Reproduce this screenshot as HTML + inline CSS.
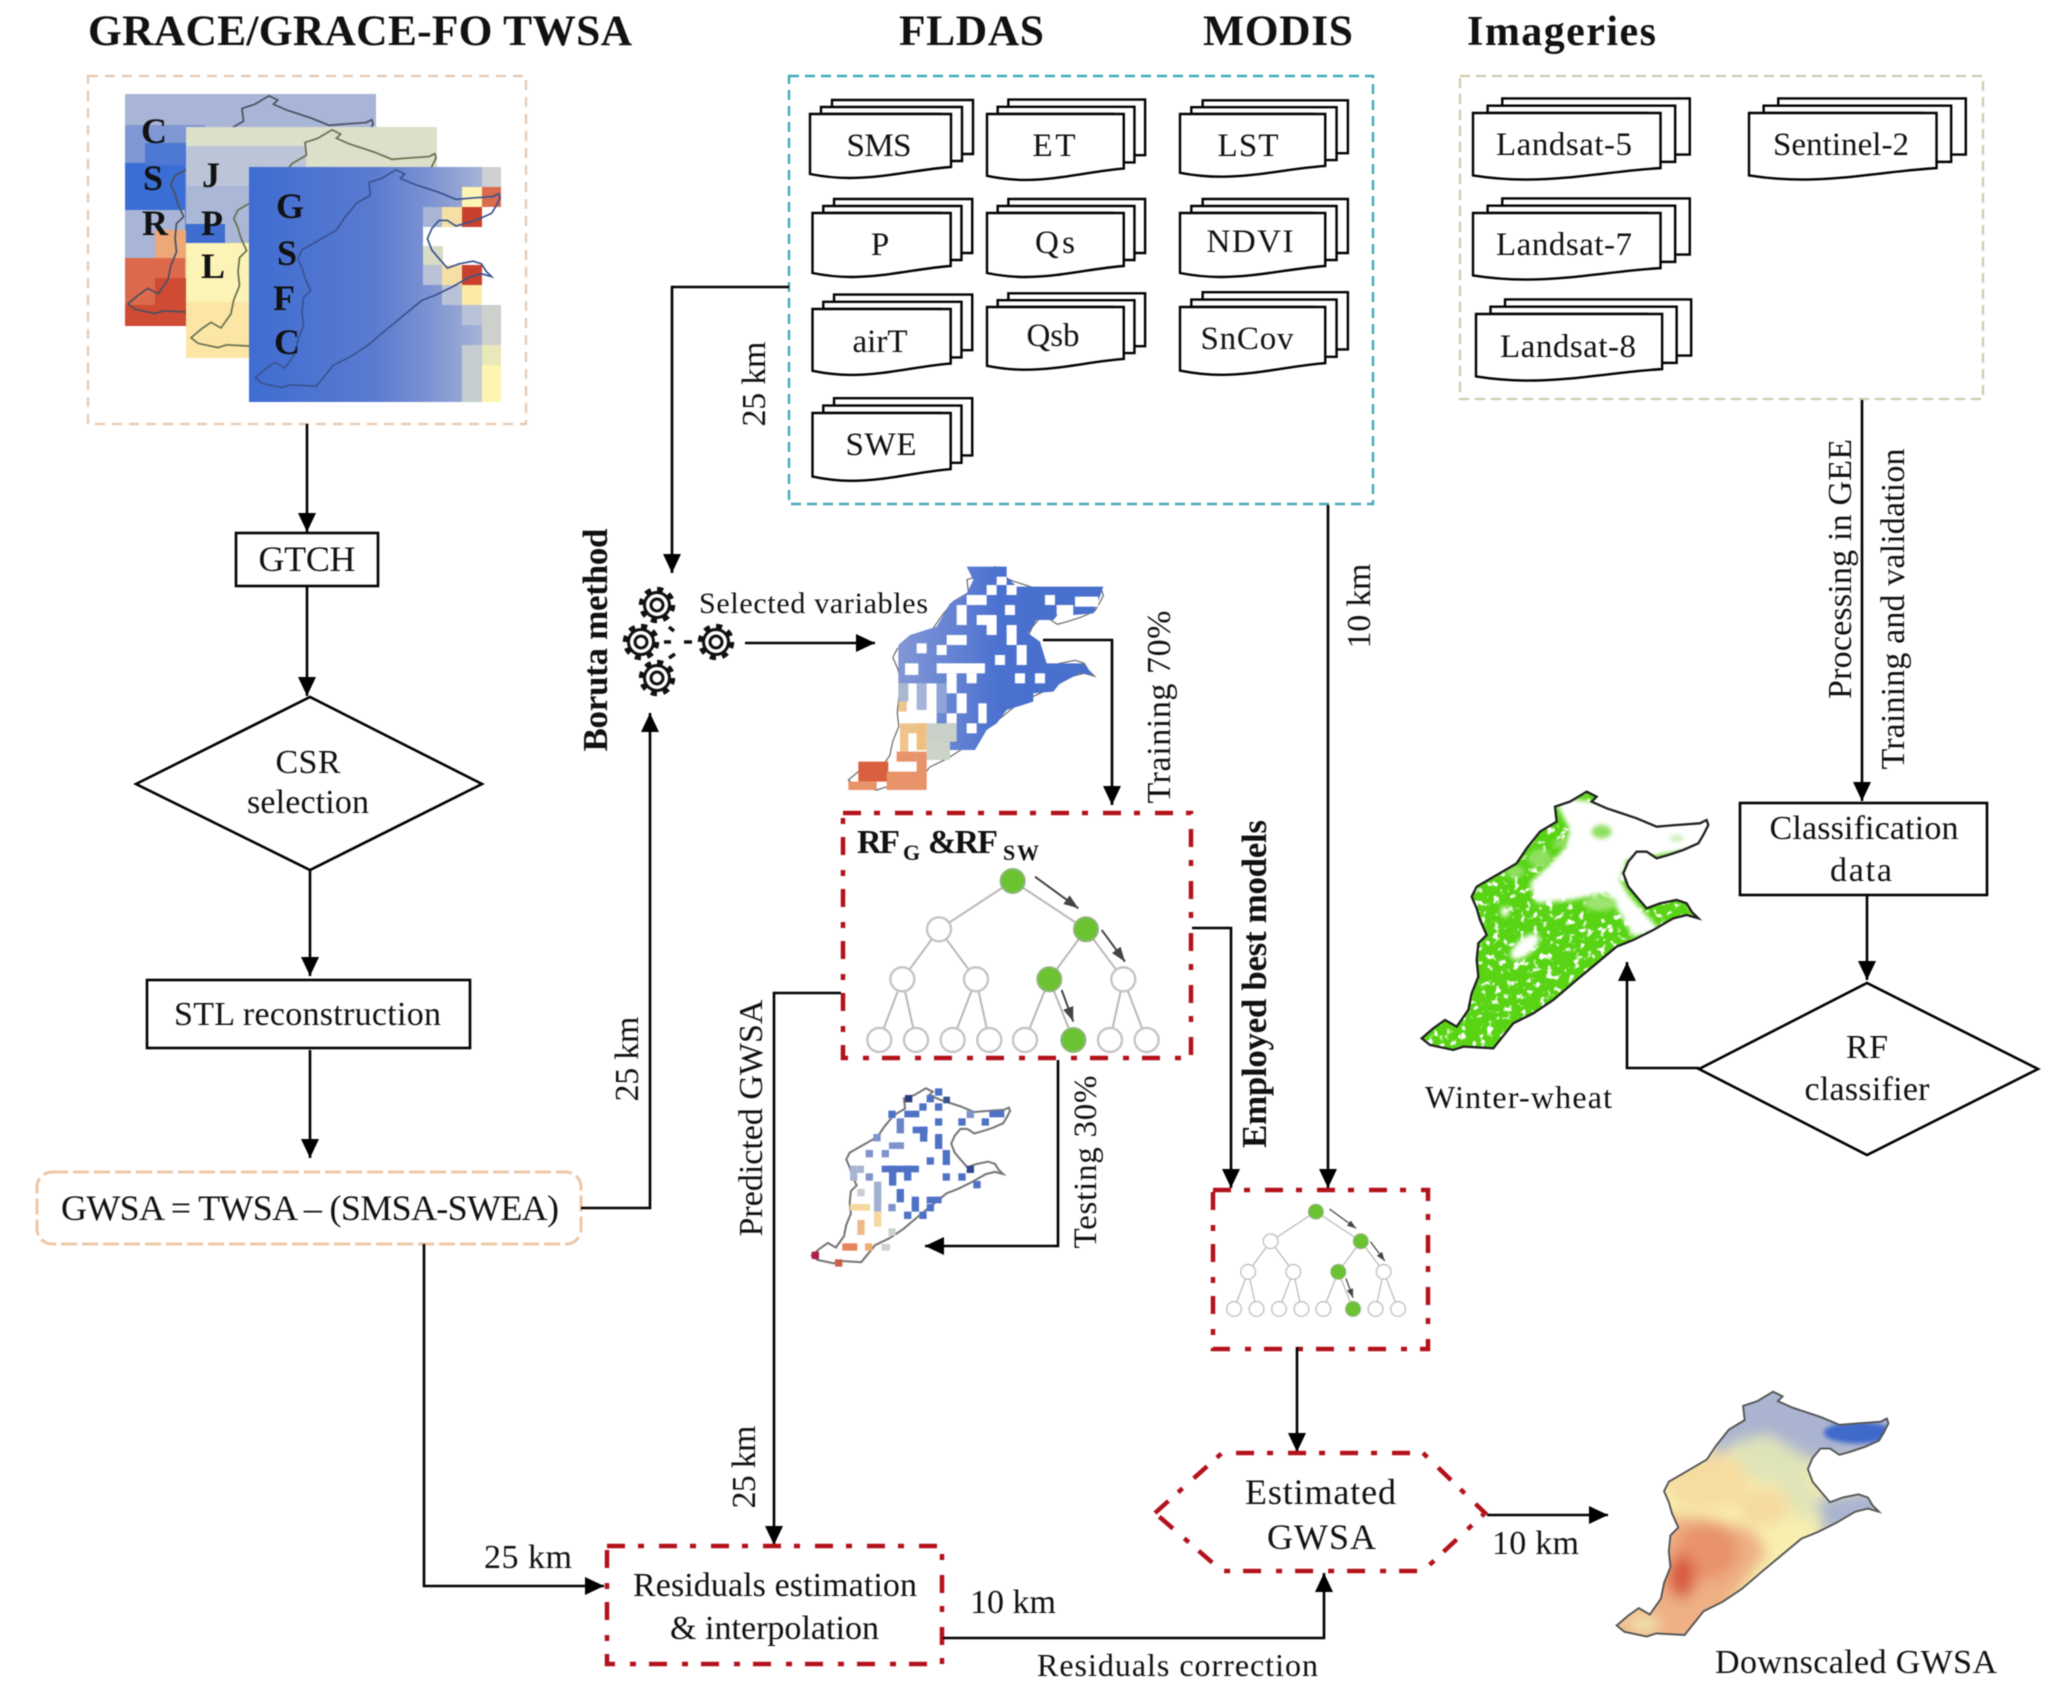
<!DOCTYPE html>
<html><head><meta charset="utf-8"><title>Workflow</title>
<style>
html,body{margin:0;padding:0;background:#fff}
svg{display:block;filter:blur(.5px)}
text{font-family:"Liberation Serif",serif;fill:#111}
.b{font-weight:bold}
.ln{fill:none;stroke:#000;stroke-width:2.6}
.bx{fill:#fff;stroke:#000;stroke-width:2.6}
.rd{fill:none;stroke:#b4121b;stroke-width:4.5;stroke-dasharray:18 13 6 15}
</style></head><body>
<svg width="2056" height="1705" viewBox="0 0 2056 1705" xmlns="http://www.w3.org/2000/svg">
<defs>
<marker id="a" markerUnits="userSpaceOnUse" markerWidth="20" markerHeight="20" refX="19" refY="9" orient="auto"><path d="M0 0L19 9L0 18Z" fill="#000"/></marker>
<marker id="g" markerUnits="userSpaceOnUse" markerWidth="60" markerHeight="50" refX="44" refY="22" orient="auto"><path d="M0 6L44 22L0 38Z" fill="#444"/></marker>
<path id="o" d="M500 35L530 50L515 65L560 85L590 95L650 115L710 140L770 135L840 130L860 120L865 135L850 165L835 190L790 210L745 225L710 235L680 215L650 215L625 245L610 280L625 320L650 350L680 385L720 370L770 360L800 370L815 395L835 415L800 405L760 415L700 450L640 480L590 500L530 550L470 600L400 660L340 700L280 730L220 805L130 800L100 810L30 795L5 775L40 745L75 720L110 740L145 690L155 640L175 590L170 540L175 490L200 465L180 420L170 385L155 350L170 320L230 285L290 250L320 205L360 155L410 125L405 80L450 65Z"/>
<clipPath id="oc"><use href="#o"/></clipPath>
<clipPath id="c1"><rect x="125" y="94" width="251" height="232"/></clipPath>
<filter id="bl" x="-20%" y="-20%" width="140%" height="140%"><feGaussianBlur stdDeviation="22"/></filter>
<filter id="bs" x="-20%" y="-20%" width="140%" height="140%"><feGaussianBlur stdDeviation="7"/></filter>
<filter id="nz" x="0" y="0" width="100%" height="100%"><feTurbulence type="fractalNoise" baseFrequency=".05" numOctaves="2" seed="4"/><feColorMatrix values="0 0 0 0 1 0 0 0 0 1 0 0 0 0 1 7 0 0 0 -4"/></filter>
<linearGradient id="gs" x1="0" x2="1" y1="0" y2="0"><stop offset="0" stop-color="#3f6dd2"/><stop offset=".5" stop-color="#5a7bd0"/><stop offset=".72" stop-color="#7d93d3"/><stop offset="1" stop-color="#b5bfd6"/></linearGradient>
<linearGradient id="pm" x1="0" x2="1" y1="0" y2="0"><stop offset="0" stop-color="#8297d6"/><stop offset=".5" stop-color="#4a71d0"/><stop offset="1" stop-color="#4a70cc"/></linearGradient>
<g id="st">
<path vector-effect="non-scaling-stroke" d="M22-14H163V40H120V0H22Z" fill="#fff" stroke="#000" stroke-width="2.4"/>
<path vector-effect="non-scaling-stroke" d="M11-7H152V47H130V0H11Z" fill="#fff" stroke="#000" stroke-width="2.4"/>
<path vector-effect="non-scaling-stroke" d="M0 0H141V53C110 55 75 64 40 64C22 64 10 62 0 60Z" fill="#fff" stroke="#000" stroke-width="2.4"/>
</g>
<g id="gr"><circle r="15.5" fill="none" stroke="#111" stroke-width="5.5" stroke-dasharray="6 6.17"/><circle r="12.5" fill="#fff" stroke="#111" stroke-width="3"/><circle r="6" fill="#fff" stroke="#111" stroke-width="3"/></g>
<g id="tr">
<path d="M518 963L297 1108M518 963L738 1108M297 1108L187 1258M297 1108L408 1258M738 1108L628 1258M738 1108L850 1258M187 1258L118 1440M187 1258L228 1440M408 1258L338 1440M408 1258L448 1440M628 1258L555 1440M628 1258L700 1440M850 1258L810 1440M850 1258L920 1440" stroke="#b8b8b8" stroke-width="6" fill="none"/>
<g fill="#fff" stroke="#c4c4c4" stroke-width="7">
<circle cx="297" cy="1108" r="36"/><circle cx="187" cy="1258" r="36"/><circle cx="408" cy="1258" r="36"/><circle cx="850" cy="1258" r="36"/>
<circle cx="118" cy="1440" r="36"/><circle cx="228" cy="1440" r="36"/><circle cx="338" cy="1440" r="36"/><circle cx="448" cy="1440" r="36"/><circle cx="555" cy="1440" r="36"/><circle cx="810" cy="1440" r="36"/><circle cx="920" cy="1440" r="36"/>
</g>
<g fill="#6cc332" stroke="#8db57a" stroke-width="6"><circle cx="518" cy="963" r="36"/><circle cx="738" cy="1108" r="36"/><circle cx="628" cy="1258" r="36"/><circle cx="700" cy="1440" r="36"/></g>
<g stroke="#444" stroke-width="6" fill="none"><path marker-end="url(#g)" d="M585 950L715 1045"/><path marker-end="url(#g)" d="M785 1110L855 1205"/><path marker-end="url(#g)" d="M665 1290L700 1385"/></g>
</g>
</defs>

<rect width="2056" height="1705" fill="#fff"/>

<!-- titles -->
<text x="88" y="45" class="b" font-size="43.5" textLength="544">GRACE/GRACE-FO TWSA</text>
<text x="899" y="45" class="b" font-size="43.5" textLength="145">FLDAS</text>
<text x="1203" y="45" class="b" font-size="43.5" textLength="150">MODIS</text>
<text x="1467" y="45" class="b" font-size="42" textLength="189">Imageries</text>

<!-- source boxes -->
<rect x="88" y="76" width="438" height="348" fill="none" stroke="#e6c8b0" stroke-width="2.2" stroke-dasharray="10 7"/>
<rect x="789" y="76" width="584" height="428" fill="none" stroke="#44a9b9" stroke-width="2.4" stroke-dasharray="10 6"/>
<rect x="1460" y="76" width="523" height="323" fill="none" stroke="#cfc9ac" stroke-width="2.2" stroke-dasharray="10 6"/>

<!-- CSR -->
<g clip-path="url(#c1)">
<rect x="125" y="94" width="251" height="232" fill="#a9b5d6"/>
<rect x="125" y="125" width="80" height="40" fill="#7f97d2"/>
<rect x="125" y="163" width="60" height="47" fill="#3b6ed4"/>
<rect x="145" y="143" width="60" height="22" fill="#4d79d4"/>
<rect x="185" y="163" width="60" height="70" fill="#5b82d0"/>
<rect x="155" y="230" width="40" height="30" fill="#eda878"/>
<rect x="170" y="232" width="30" height="46" fill="#eda878"/>
<rect x="125" y="258" width="60" height="68" fill="#dd694c"/>
<rect x="155" y="278" width="40" height="48" fill="#cf4b34"/>
<rect x="125" y="305" width="60" height="21" fill="#cf4b34"/>
<use href="#o" transform="translate(126.6 86) scale(.285 .281)" fill="none" stroke="#4a4f60" stroke-width="6"/>
</g>

<!-- JPL -->
<rect x="186" y="127" width="251" height="231" fill="#fcf3b6"/>
<rect x="186" y="127" width="251" height="19" fill="#dcdfca"/>
<rect x="250" y="146" width="187" height="40" fill="#dcdfca"/>
<rect x="186" y="146" width="120" height="40" fill="#bcc4d8"/>
<rect x="186" y="186" width="65" height="57" fill="#aab7d6"/>
<rect x="186" y="224" width="39" height="19" fill="#3f6dd0"/>
<rect x="186" y="302" width="64" height="56" fill="#fbe6a6"/>
<use href="#o" transform="translate(189.6 120) scale(.285 .281)" fill="none" stroke="#68704d" stroke-width="6"/>

<!-- GSFC -->
<rect x="249" y="167" width="252" height="235" fill="url(#gs)"/>
<rect x="482" y="167" width="19" height="20" fill="#cdd0d0"/>
<rect x="462" y="187" width="20" height="20" fill="#fdf5b5"/>
<rect x="482" y="187" width="19" height="20" fill="#dc6a4d"/>
<rect x="423" y="207" width="20" height="20" fill="#a9b5d6"/>
<rect x="442" y="207" width="20" height="20" fill="#f5dfa4"/>
<rect x="462" y="207" width="20" height="20" fill="#c9402e"/>
<rect x="482" y="207" width="19" height="20" fill="#fff"/>
<rect x="423" y="227" width="78" height="38" fill="#fff"/>
<rect x="423" y="246" width="20" height="19" fill="#d8dcc6"/>
<rect x="423" y="265" width="20" height="20" fill="#b9c2d6"/>
<rect x="442" y="265" width="20" height="20" fill="#f5dfa4"/>
<rect x="462" y="265" width="20" height="20" fill="#c9402e"/>
<rect x="482" y="265" width="19" height="40" fill="#fff"/>
<rect x="442" y="285" width="20" height="20" fill="#b9c2d6"/>
<rect x="462" y="285" width="20" height="20" fill="#fdeaa5"/>
<rect x="462" y="305" width="39" height="20" fill="#b9c2d6"/>
<rect x="482" y="305" width="19" height="40" fill="#ccd1cc"/>
<rect x="482" y="345" width="19" height="20" fill="#e8e8b8"/>
<rect x="482" y="365" width="19" height="37" fill="#fdf5b0"/>
<rect x="462" y="345" width="20" height="57" fill="#c5cdd0"/>
<use href="#o" transform="translate(253.6 160) scale(.285 .281)" fill="none" stroke="#3a5390" stroke-width="6"/>

<g font-weight="bold" font-size="36" text-anchor="middle">
<text x="154" y="143" class="b">C</text><text x="153" y="190" class="b">S</text><text x="155" y="235" class="b">R</text>
<text x="211" y="187" class="b">J</text><text x="212" y="235" class="b">P</text><text x="213" y="278" class="b">L</text>
<text x="290" y="218" class="b">G</text><text x="287" y="265" class="b">S</text><text x="284" y="310" class="b">F</text><text x="287" y="354" class="b">C</text>
</g>

<!-- doc stacks -->
<use href="#st" transform="translate(810 114)"/>
<use href="#st" transform="translate(987 114) scale(.97 1.03)"/>
<use href="#st" transform="translate(1180 114) scale(1.03 .98)"/>
<use href="#st" transform="translate(812.5 213) scale(.98 1)"/>
<use href="#st" transform="translate(987 213) scale(.97 1)"/>
<use href="#st" transform="translate(1180 213) scale(1.03 1)"/>
<use href="#st" transform="translate(812.5 309) scale(.98 1.03)"/>
<use href="#st" transform="translate(987 307) scale(.97 .98)"/>
<use href="#st" transform="translate(1180 307) scale(1.03 1.06)"/>
<use href="#st" transform="translate(812.5 413) scale(.98 1.06)"/>
<use href="#st" transform="translate(1473 113) scale(1.33 1.04)"/>
<use href="#st" transform="translate(1749 113) scale(1.33 1.04)"/>
<use href="#st" transform="translate(1473 213) scale(1.33 1.04)"/>
<use href="#st" transform="translate(1476 314) scale(1.32 1.04)"/>
<g font-size="33" text-anchor="middle">
<text x="879" y="156" textLength="65">SMS</text>
<text x="1054" y="156" textLength="43">ET</text>
<text x="1248" y="156" textLength="61">LST</text>
<text x="880" y="255" textLength="20">P</text>
<text x="1055" y="253" textLength="40">Qs</text>
<text x="1250" y="252" textLength="87">NDVI</text>
<text x="880" y="352" textLength="55">airT</text>
<text x="1053" y="346" textLength="53">Qsb</text>
<text x="1247" y="349" textLength="93">SnCov</text>
<text x="881" y="455" textLength="71">SWE</text>
<text x="1564" y="155" textLength="136">Landsat-5</text>
<text x="1841" y="155" textLength="136">Sentinel-2</text>
<text x="1564" y="255" textLength="136">Landsat-7</text>
<text x="1568" y="357" textLength="136">Landsat-8</text>
</g>

<!-- left flow -->
<path class="ln" marker-end="url(#a)" d="M307 424V532"/>
<rect class="bx" x="236" y="533" width="142" height="53"/>
<text x="307" y="571" font-size="36" text-anchor="middle" textLength="97">GTCH</text>
<path class="ln" marker-end="url(#a)" d="M307 587V696"/>
<path class="bx" d="M136 784L310 697L482 784L310 870Z"/>
<text x="308" y="773" font-size="34" text-anchor="middle" textLength="65">CSR</text>
<text x="308" y="813" font-size="34" text-anchor="middle" textLength="122">selection</text>
<path class="ln" marker-end="url(#a)" d="M310 870V976"/>
<rect class="bx" x="147" y="980" width="323" height="68"/>
<text x="174" y="1025" font-size="34" textLength="267">STL reconstruction</text>
<path class="ln" marker-end="url(#a)" d="M310 1050V1158"/>
<rect x="37" y="1172" width="544" height="72" rx="15" fill="#fff" stroke="#eec7a6" stroke-width="3" stroke-dasharray="16 5"/>
<text x="61" y="1220" font-size="36" textLength="498">GWSA = TWSA – (SMSA-SWEA)</text>

<path class="ln" marker-end="url(#a)" d="M581 1208H650V713"/>
<path class="ln" marker-end="url(#a)" d="M424 1244V1586H604"/>
<text x="484" y="1568" font-size="34" textLength="88">25 km</text>
<text transform="translate(638 1059) rotate(-90)" font-size="34" text-anchor="middle" textLength="85">25 km</text>
<text transform="translate(607 640) rotate(-90)" class="b" font-size="35" text-anchor="middle" textLength="223">Boruta method</text>

<!-- gears -->
<use href="#gr" x="657" y="605"/><use href="#gr" x="641" y="642"/><use href="#gr" x="657" y="678"/><use href="#gr" x="716" y="642"/>
<path d="M669 627L674 631M664 642H671M684 642H692M669 658L675 654" stroke="#111" stroke-width="3.5" fill="none"/>
<path class="ln" marker-end="url(#a)" d="M789 287H672V573"/>
<text transform="translate(765 384) rotate(-90)" font-size="34" text-anchor="middle" textLength="85">25 km</text>
<text x="699" y="613" font-size="30" textLength="229">Selected variables</text>
<path class="ln" marker-end="url(#a)" d="M745 643H875"/>

<!-- pixel map -->
<g transform="translate(840 560) scale(.3333)">
<use href="#o" transform="translate(20.5 -10.3) scale(.89 .865)" fill="none" stroke="#666" stroke-width="4"/>
<path fill="url(#pm)" d="M380 20L500 20L500 50L530 80L790 80L780 110L760 160L700 165L680 135L640 180L590 180L565 220L600 245L620 310L730 310L760 345L720 340L660 370L640 395L580 400L580 425L500 450L470 490L440 510L405 570L320 570L290 500L290 370L175 370L175 255L210 225L290 200L330 130L380 100L400 60Z"/>
<g fill="#fff">
<rect x="440" y="75" width="30" height="30"/><rect x="500" y="75" width="30" height="30"/><rect x="470" y="50" width="30" height="25"/><rect x="380" y="105" width="60" height="30"/><rect x="350" y="135" width="30" height="60"/><rect x="410" y="165" width="60" height="30"/><rect x="440" y="195" width="30" height="30"/><rect x="495" y="135" width="30" height="30"/><rect x="500" y="195" width="30" height="60"/><rect x="530" y="255" width="30" height="60"/><rect x="465" y="285" width="30" height="30"/><rect x="320" y="225" width="60" height="30"/><rect x="290" y="255" width="30" height="30"/><rect x="230" y="250" width="30" height="30"/><rect x="615" y="105" width="30" height="30"/><rect x="705" y="110" width="70" height="30"/><rect x="650" y="135" width="50" height="30"/><rect x="290" y="310" width="145" height="30"/><rect x="320" y="340" width="30" height="60"/><rect x="380" y="340" width="30" height="30"/><rect x="350" y="400" width="30" height="60"/><rect x="525" y="340" width="30" height="30"/><rect x="585" y="340" width="30" height="30"/><rect x="415" y="430" width="25" height="60"/><rect x="380" y="490" width="30" height="30"/><rect x="320" y="460" width="30" height="30"/><rect x="195" y="310" width="40" height="35"/>
</g>
<g>
<rect x="230" y="370" width="30" height="80" fill="#a5b3d8"/><rect x="175" y="370" width="30" height="55" fill="#a9b7d0"/><rect x="175" y="425" width="25" height="30" fill="#edc48a"/><rect x="290" y="370" width="30" height="90" fill="#8fa3d6"/>
<rect x="180" y="490" width="80" height="30" fill="#eec28a"/><rect x="230" y="490" width="30" height="80" fill="#f0c080"/><rect x="180" y="520" width="25" height="60" fill="#f0c48c"/>
<rect x="260" y="490" width="90" height="55" fill="#c9d0c8"/><rect x="260" y="545" width="70" height="55" fill="#ccd4c8"/>
<rect x="170" y="575" width="60" height="30" fill="#e8936a"/><rect x="230" y="575" width="30" height="90" fill="#e8936a"/><rect x="55" y="605" width="90" height="60" fill="#d9603f"/><rect x="25" y="665" width="85" height="25" fill="#e8936a"/><rect x="140" y="635" width="120" height="55" fill="#e8936a"/>
</g>
</g>
<path class="ln" marker-end="url(#a)" d="M1043 640H1112V805"/>
<text transform="translate(1170 707) rotate(-90)" font-size="34" text-anchor="middle" textLength="193">Training 70%</text>

<!-- RF box -->
<rect class="rd" x="843" y="813" width="348" height="245"/>
<use href="#tr" transform="translate(840 560) scale(.3333)"/>
<text x="857" y="853" class="b" font-size="34" textLength="43">RF</text>
<text x="903" y="860" class="b" font-size="22">G</text>
<text x="928" y="853" class="b" font-size="34" textLength="70">&amp;RF</text>
<text x="1003" y="860" class="b" font-size="22" textLength="36">SW</text>

<path class="ln" marker-end="url(#a)" d="M1192 928H1231V1188"/>
<text transform="translate(1266 984) rotate(-90)" class="b" font-size="35" text-anchor="middle" textLength="328">Employed best models</text>
<path class="ln" marker-end="url(#a)" d="M1328 505V1188"/>
<text transform="translate(1370 606) rotate(-90)" font-size="34" text-anchor="middle" textLength="85">10 km</text>

<path class="ln" marker-end="url(#a)" d="M841 993H774V1545"/>
<text transform="translate(762 1118) rotate(-90)" font-size="34" text-anchor="middle" textLength="237">Predicted GWSA</text>
<text transform="translate(755 1467) rotate(-90)" font-size="34" text-anchor="middle" textLength="83">25 km</text>
<path class="ln" stroke-width="3" marker-end="url(#a)" d="M1058 1060V1246H925"/>
<text transform="translate(1096 1162) rotate(-90)" font-size="33" text-anchor="middle" textLength="173">Testing 30%</text>

<!-- sample map -->
<use href="#o" transform="translate(810.5 1080.4) scale(.2307 .2258)" fill="none" stroke="#777" stroke-width="9"/>
<g transform="translate(800 1070) scale(.3333)" fill="#4f72c6">
<rect x="265" y="122" width="22" height="22"/><rect x="290" y="145" width="22" height="45" fill="#6b85c8"/><rect x="313" y="122" width="45" height="20"/><rect x="358" y="100" width="22" height="22"/><rect x="405" y="100" width="22" height="22"/><rect x="405" y="145" width="22" height="22"/><rect x="315" y="75" width="22" height="22" fill="#2a3f80"/><rect x="380" y="75" width="22" height="22"/><rect x="405" y="55" width="22" height="22"/><rect x="430" y="80" width="20" height="20" fill="#3a5290"/><rect x="500" y="122" width="22" height="22" fill="#7f93cc"/><rect x="475" y="145" width="22" height="22"/><rect x="545" y="145" width="22" height="22"/><rect x="568" y="122" width="45" height="20"/>
<rect x="338" y="170" width="45" height="20"/><rect x="360" y="170" width="22" height="45"/><rect x="405" y="192" width="22" height="45"/><rect x="428" y="240" width="22" height="45"/><rect x="380" y="262" width="22" height="22"/><rect x="220" y="192" width="22" height="22" fill="#7f93cc"/><rect x="267" y="217" width="45" height="20" fill="#7f93cc"/><rect x="197" y="240" width="22" height="22" fill="#7f93cc"/><rect x="245" y="240" width="22" height="22" fill="#7f93cc"/>
<rect x="245" y="287" width="112" height="20"/><rect x="267" y="287" width="22" height="60"/><rect x="312" y="287" width="22" height="45"/><rect x="197" y="310" width="22" height="22" fill="#7f93cc"/><rect x="150" y="287" width="22" height="45" fill="#a9b4d2"/><rect x="172" y="287" width="20" height="22" fill="#a9b4d2"/><rect x="222" y="335" width="22" height="90" fill="#a3b0d4"/><rect x="290" y="357" width="22" height="40"/><rect x="265" y="402" width="22" height="22" fill="#7f93cc"/><rect x="335" y="380" width="22" height="45"/><rect x="380" y="380" width="45" height="20"/><rect x="380" y="402" width="22" height="22"/><rect x="312" y="425" width="22" height="22"/><rect x="358" y="425" width="22" height="22"/><rect x="428" y="310" width="22" height="22"/><rect x="475" y="310" width="22" height="22"/><rect x="500" y="287" width="22" height="22" fill="#2f4a8c"/><rect x="520" y="333" width="22" height="22"/>
<rect x="150" y="402" width="60" height="20" fill="#f5d9a0"/><rect x="172" y="450" width="22" height="45" fill="#eeb988"/><rect x="222" y="425" width="22" height="45" fill="#f5d9a0"/><rect x="127" y="520" width="45" height="22" fill="#e8845a"/><rect x="195" y="520" width="22" height="22" fill="#eeb070"/><rect x="35" y="545" width="22" height="22" fill="#b02040"/><rect x="105" y="568" width="22" height="22" fill="#c86048"/><rect x="245" y="522" width="25" height="20" fill="#ccd4cc"/><rect x="265" y="475" width="22" height="22" fill="#ccd4cc"/><rect x="172" y="357" width="22" height="22" fill="#c8ccd8"/>
</g>

<!-- small tree box -->
<rect class="rd" x="1213" y="1190" width="215" height="159"/>
<use href="#tr" transform="translate(1209.9 1015.2) scale(.2045 .204)"/>
<path class="ln" marker-end="url(#a)" d="M1297 1347V1452"/>

<!-- hexagon -->
<path class="rd" d="M1155 1513L1222 1453H1423L1485 1513L1423 1571H1222Z" fill="#fff"/>
<text x="1245" y="1504" font-size="36" textLength="151">Estimated</text>
<text x="1267" y="1549" font-size="36" textLength="109">GWSA</text>
<path class="ln" marker-end="url(#a)" d="M1487 1515H1608"/>
<text x="1492" y="1554" font-size="34" textLength="87">10 km</text>

<!-- residuals -->
<rect class="rd" x="607" y="1546" width="335" height="118"/>
<text x="633" y="1596" font-size="34" textLength="284">Residuals estimation</text>
<text x="670" y="1639" font-size="34" textLength="209">&amp; interpolation</text>
<path class="ln" marker-end="url(#a)" d="M943 1638H1324V1573"/>
<text x="970" y="1613" font-size="34" textLength="86">10 km</text>
<text x="1037" y="1676" font-size="32" textLength="281">Residuals correction</text>

<!-- downscaled -->
<g transform="translate(1615.1 1380.6) scale(.316)">
<g clip-path="url(#oc)">
<rect width="900" height="840" fill="#f8efb0"/>
<g filter="url(#bl)">
<path d="M330 0L900 0L900 230L640 260L600 240L480 170L380 200L300 260Z" fill="#aab4d0"/>
<path d="M640 370L860 340L860 430L660 490Z" fill="#aab4d0"/>
<path d="M380 190L480 180L600 240L640 400L600 460L520 330L380 300Z" fill="#dfe4b8"/>
<ellipse cx="290" cy="320" rx="130" ry="90" fill="#f7dca0"/>
<ellipse cx="470" cy="400" rx="80" ry="60" fill="#f5d9a0"/>
<path d="M0 830L280 830L480 540L430 470L250 430L150 430L100 700L0 740Z" fill="#eeb084"/>
<ellipse cx="290" cy="540" rx="100" ry="90" fill="#e8936c"/>
<ellipse cx="210" cy="620" rx="45" ry="70" fill="#d85a42"/>
<ellipse cx="90" cy="770" rx="50" ry="22" fill="#f0eebb"/>
</g>
<ellipse cx="770" cy="165" rx="110" ry="34" fill="#3f69cc" filter="url(#bs)"/>
</g>
<use href="#o" fill="none" stroke="#555" stroke-width="6"/>
</g>
<text x="1715" y="1673" font-size="34" textLength="282">Downscaled GWSA</text>

<!-- wheat -->
<g transform="translate(1420 780) scale(.3333)">
<g clip-path="url(#oc)">
<rect width="900" height="840" fill="#58d414"/>
<rect width="900" height="840" filter="url(#nz)"/>
<g filter="url(#bs)" fill="#fff">
<path d="M400 50L880 110L860 200L620 240L600 300L630 350L720 450L640 470L600 400L560 340L450 360L350 370L330 310L380 260L430 210L450 150Z"/>
<ellipse cx="315" cy="500" rx="52" ry="24" transform="rotate(-40 315 500)"/>
<ellipse cx="255" cy="395" rx="12" ry="15"/>
</g>
<g filter="url(#bs)" fill="#8fe060"><ellipse cx="545" cy="155" rx="30" ry="20"/><ellipse cx="360" cy="235" rx="35" ry="28"/><ellipse cx="285" cy="275" rx="28" ry="18"/><ellipse cx="420" cy="190" rx="20" ry="15"/><ellipse cx="770" cy="175" rx="22" ry="10" fill="#cdeeb8"/><ellipse cx="540" cy="370" rx="50" ry="22" fill="#9ee470"/></g>
</g>
<use href="#o" fill="none" stroke="#222" stroke-width="7"/>
</g>
<text x="1425" y="1108" font-size="32" textLength="187">Winter-wheat</text>

<!-- right flow -->
<path class="ln" marker-end="url(#a)" d="M1862 400V801"/>
<text transform="translate(1851 569) rotate(-90)" font-size="34" text-anchor="middle" textLength="260">Processing in GEE</text>
<text transform="translate(1904 609) rotate(-90)" font-size="34" text-anchor="middle" textLength="321">Training and validation</text>
<rect class="bx" x="1740" y="803" width="247" height="92"/>
<text x="1864" y="839" font-size="34" text-anchor="middle" textLength="189">Classification</text>
<text x="1861" y="881" font-size="34" text-anchor="middle" textLength="62">data</text>
<path class="ln" marker-end="url(#a)" d="M1867 896V980"/>
<path class="bx" d="M1699 1069L1867 983L2038 1069L1867 1155Z"/>
<text x="1867" y="1058" font-size="34" text-anchor="middle" textLength="42">RF</text>
<text x="1867" y="1100" font-size="34" text-anchor="middle" textLength="125">classifier</text>
<path class="ln" marker-end="url(#a)" d="M1699 1068H1627V962"/>
</svg>
</body></html>
